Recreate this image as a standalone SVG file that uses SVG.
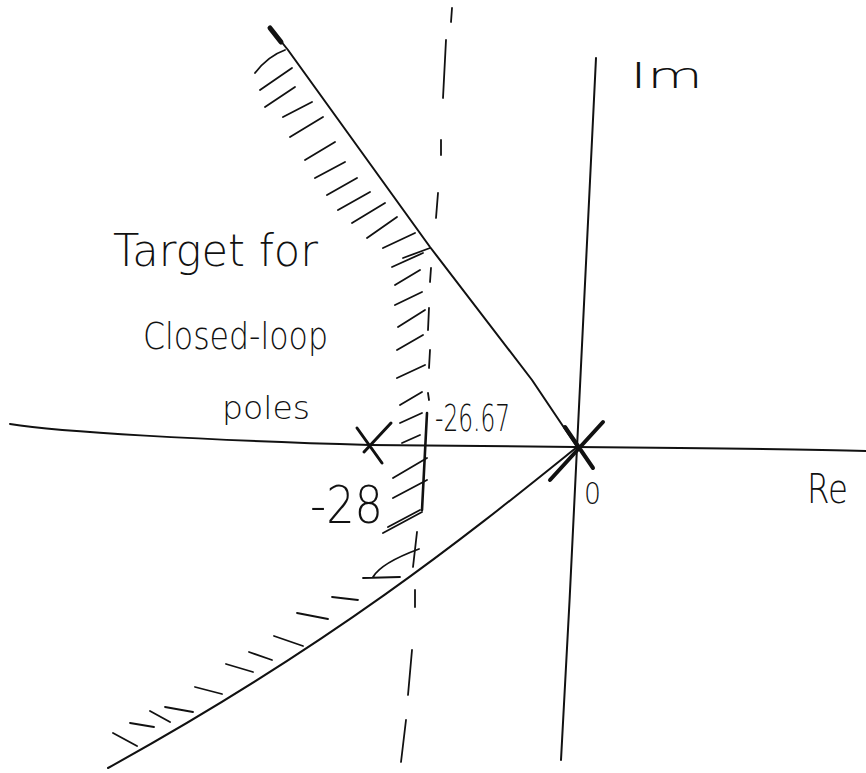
<svg xmlns="http://www.w3.org/2000/svg" width="866" height="773" viewBox="0 0 866 773">
<style>
.ln{fill:none;stroke:#111;stroke-width:2;stroke-linecap:round;stroke-linejoin:round}
.h{fill:none;stroke:#111;stroke-width:1.8;stroke-linecap:round}
.d{fill:none;stroke:#111;stroke-width:1.8;stroke-linecap:round}
.pole{fill:none;stroke:#111;stroke-width:3;stroke-linecap:round}
.t{font-family:"DejaVu Sans","Liberation Sans",sans-serif;fill:#111;font-weight:300}
</style>
<rect width="866" height="773" fill="#fff"/>
<g id="real-axis">
<path class="ln" d="M10,424 C60,432 200,440 370,445 L575,447 C700,448 800,449 866,451"/>
</g>
<g id="imag-axis">
<path class="ln" d="M596,58 C591,200 575,500 561,760"/>
</g>
<g id="damping-line">
<polyline class="ln" points="280,40 288,50 430,247 532,380 577,447"/>
<line class="ln" x1="270" y1="28" x2="281" y2="42" style="stroke-width:5"/>
</g>
<g id="lower-curve">
<path class="ln" d="M577,447 C480,525 340,640 108,768"/>
</g>
<g id="dashed-line">
<path class="d" d="M452,8L451,22 M446,40L443,98 M441,140L441,155 M438,193L436,218 M431,268L430,282 M429,308L428,330 M430,350L429,368 M428,393L429,400 M417,532L413,567 M415,590L415,607 M412,650L408,695 M406,720L401,762"/>
<line class="ln" x1="427" y1="413" x2="422" y2="510" style="stroke-width:2.6"/>
</g>
<g id="hatching">
<path class="h" d="M255,73Q268,56 285,50 M260,90L292,68 M265,107L295,87 M283,117L312,102 M290,137L323,117 M305,160L335,142 M315,178L345,162 M327,195L357,178 M338,210L370,192 M352,223L385,203 M367,238L397,217 M383,248L415,233 M403,258L430,248 M392,267L423,253 M395,285L420,270 M395,305L422,292 M398,327L425,310 M397,350L423,335 M397,378L425,365 M400,405L422,392 M400,423L422,413 M402,443L420,435 M393,478L427,458 M393,498L427,480 M388,527L420,510 M383,533L422,512 M419,549C400,556 380,565 373,577 M363,578L400,577 M332,597L358,600 M297,613L328,619 M274,636L303,646 M249,652L272,660 M226,664L253,672 M195,687L222,694 M165,707L193,712 M150,711L170,722 M130,723L154,727 M113,733L137,746"/>
</g>
<g id="pole-28">
<path class="pole" d="M357,428L382,463 M391,423L364,452"/>
</g>
<g id="pole-0">
<path class="pole" d="M565,427L593,468 M603,422L550,480" style="stroke-width:4"/>
</g>
<g id="labels">
<text class="t" x="630" y="88" font-size="36" textLength="73" lengthAdjust="spacingAndGlyphs">Im</text>
<text class="t" x="807" y="503" font-size="40" textLength="41" lengthAdjust="spacingAndGlyphs">Re</text>
<text class="t" x="584" y="504" font-size="31" textLength="17" lengthAdjust="spacingAndGlyphs">0</text>
<text class="t" x="310" y="523" font-size="52" textLength="73" lengthAdjust="spacingAndGlyphs">-28</text>
<text class="t" x="435" y="431" font-size="38" textLength="75" lengthAdjust="spacingAndGlyphs">-26.67</text>
<text class="t" x="113" y="266" font-size="44" textLength="205" lengthAdjust="spacingAndGlyphs">Target for</text>
<text class="t" x="143" y="349" font-size="38" textLength="185" lengthAdjust="spacingAndGlyphs">Closed-loop</text>
<text class="t" x="222" y="419" font-size="32" textLength="88" lengthAdjust="spacingAndGlyphs">poles</text>
</g>
</svg>
